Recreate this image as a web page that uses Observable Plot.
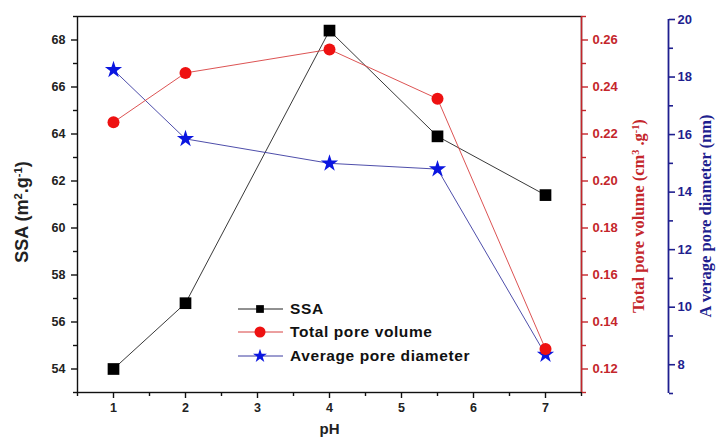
<!DOCTYPE html>
<html>
<head>
<meta charset="utf-8">
<script src="https://cdn.jsdelivr.net/npm/d3@7"></script>
<script src="https://cdn.jsdelivr.net/npm/@observablehq/plot@0.6"></script>
<style>
  html, body { margin: 0; padding: 0; background: #fff; }
  #wrap { position: relative; width: 717px; height: 442px; overflow: hidden; }
  #wrap svg.plot { position: absolute; left: 0; top: 0; }
  #legend { position: absolute; left: 238px; top: 297px; font-family: "Liberation Sans", Arial, sans-serif; font-weight: bold; font-size: 15.5px; color: #111; }
  #legend .row { display: flex; align-items: center; height: 23.5px; }
  #legend svg { margin-right: 6px; }
</style>
</head>
<body>
<div id="wrap"></div>
<script>
// ---- data ----
const pH = [1, 2, 4, 5.5, 7];
const ssa = [54.0, 56.8, 68.4, 63.9, 61.4];
const poreVolume = [0.225, 0.246, 0.256, 0.235, 0.1285];
const poreDiameter = [18.25, 15.85, 15.0, 14.8, 8.35];

const xMajor = [1, 2, 3, 4, 5, 6, 7];
const xMinor = [0.5, 1.5, 2.5, 3.5, 4.5, 5.5, 6.5, 7.5];
const ssaMajor = [54, 56, 58, 60, 62, 64, 66, 68];
const ssaMinor = [53, 55, 57, 59, 61, 63, 65, 67, 69];
const volMajor = [0.12, 0.14, 0.16, 0.18, 0.20, 0.22, 0.24, 0.26];
const volMinor = [0.11, 0.13, 0.15, 0.17, 0.19, 0.21, 0.23, 0.25, 0.27];
const diaMajor = [8, 10, 12, 14, 16, 18, 20];
const diaMinor = [7, 9, 11, 13, 15, 17, 19];

const rows = pH.map((p, i) => ({pH: p, ssa: ssa[i], vol: poreVolume[i], dia: poreDiameter[i]}));

const W = 717, H = 442;
const SANS = "Liberation Sans, Arial, sans-serif";
const SERIF = "Liberation Serif, Times New Roman, serif";
const RED_AX = "#c4262b", RED_PT = "#ee1111", RED_LN = "#d84040";
const BLUE_AX = "#1f1f8f", BLUE_PT = "#0b16e0", BLUE_LN = "#3a3aa0";
const TXT = "#222";

const base = {
  width: W, height: H,
  marginLeft: 77, marginRight: 136,
  style: {background: "transparent", overflow: "visible", fontFamily: SANS}
};
const tickFont = {fontFamily: SANS, fontWeight: "bold", fontSize: 12.5};

// ---- SSA plot (left axis, x axis, frame) ----
const p1 = Plot.plot({
  ...base,
  marginTop: 16, marginBottom: 50,
  x: {domain: [0.5, 7.5], label: null},
  y: {domain: [53, 69], label: null},
  marks: [
    Plot.frame({stroke: "#111", strokeWidth: 1.4}),
    Plot.axisX(xMajor, {tickSize: 6, tickPadding: 5, ...tickFont, fill: TXT, stroke: "#111", strokeWidth: 1.4, label: null}),
    Plot.axisX(xMinor, {tickSize: 4, tickFormat: () => "", stroke: "#111", strokeWidth: 1.4, label: null}),
    Plot.axisY(ssaMajor, {tickSize: 6, tickPadding: 6, ...tickFont, fill: TXT, stroke: "#111", strokeWidth: 1.4, label: null}),
    Plot.axisY(ssaMinor, {tickSize: 4, tickFormat: () => "", stroke: "#111", strokeWidth: 1.4, label: null}),
    Plot.text(["pH"], {frameAnchor: "bottom", dy: 41, text: d => d, fontFamily: SANS, fontWeight: "bold", fontSize: 15, fill: TXT}),
    Plot.line(rows, {x: "pH", y: "ssa", stroke: "#222", strokeWidth: 0.9}),
    Plot.dot(rows, {x: "pH", y: "ssa", symbol: "square", r: 6.6, fill: "#000", stroke: "none"})
  ]
});

// ---- Total pore volume plot (red right axis) ----
const p2 = Plot.plot({
  ...base,
  marginTop: 16, marginBottom: 50,
  x: {domain: [0.5, 7.5], axis: null},
  y: {domain: [0.11, 0.27], axis: null},
  marks: [
    Plot.ruleX([7.5], {stroke: RED_AX, strokeWidth: 1.5}),
    Plot.axisY(volMajor, {anchor: "right", tickSize: 6, tickPadding: 5, tickFormat: d3.format(".2f"), ...tickFont, fontSize: 13, fill: RED_AX, stroke: RED_AX, strokeWidth: 1.4, label: null}),
    Plot.axisY(volMinor, {anchor: "right", tickSize: 4, tickFormat: () => "", stroke: RED_AX, strokeWidth: 1.4, label: null}),
    Plot.line(rows, {x: "pH", y: "vol", stroke: RED_LN, strokeWidth: 0.9}),
    Plot.dot(rows, {x: "pH", y: "vol", symbol: "circle", r: 6, fill: RED_PT, stroke: "none"})
  ]
});

// ---- Average pore diameter plot (blue far-right axis) ----
const p3 = Plot.plot({
  ...base,
  marginTop: 19, marginBottom: 49,
  x: {domain: [0.5, 7.5], axis: null},
  y: {domain: [7, 20], axis: null},
  marks: [
    Plot.ruleX([7.5], {dx: 87, stroke: BLUE_AX, strokeWidth: 1.8}),
    Plot.axisY(diaMajor, {anchor: "right", dx: 87, tickSize: 6, tickPadding: 3, ...tickFont, fontSize: 13, fill: BLUE_AX, stroke: BLUE_AX, strokeWidth: 1.6, label: null}),
    Plot.axisY(diaMinor, {anchor: "right", dx: 87, tickSize: 4, tickFormat: () => "", stroke: BLUE_AX, strokeWidth: 1.6, label: null}),
    Plot.line(rows, {x: "pH", y: "dia", stroke: BLUE_LN, strokeWidth: 0.9}),
    Plot.dot(rows, {x: "pH", y: "dia", symbol: "star", r: 5.4, fill: BLUE_PT, stroke: "none"})
  ]
});

const wrap = document.getElementById("wrap");
[p1, p3, p2].forEach(s => { s.classList.add("plot"); wrap.appendChild(s); });

// ---- axis titles with superscripts ----
function vTitle(svg, x, y, parts, font, size, color) {
  const t = d3.select(svg).append("text")
    .attr("transform", `translate(${x},${y}) rotate(-90)`)
    .attr("text-anchor", "middle")
    .attr("font-family", font).attr("font-weight", "bold")
    .attr("font-size", size).attr("fill", color);
  parts.forEach(([s, sup]) => {
    const ts = t.append("tspan").text(s);
    if (sup) ts.attr("font-size", size * 0.62).attr("baseline-shift", "super");
  });
}
vTitle(p1, 28, 212, [["SSA (m"], ["2", 1], [".g"], ["-1", 1], [")"]], SANS, 18, TXT);
vTitle(p2, 644, 216, [["Total pore volume (cm"], ["3", 1], [" .g"], ["-1", 1], [")"]], SERIF, 16.5, RED_AX);
vTitle(p3, 711, 216, [["A verage pore diameter (nm)"]], SERIF, 16.5, BLUE_AX);

// ---- legend ----
const legendItems = [
  {label: "SSA", line: "#222", fill: "#000", sym: d3.symbolSquare, size: 60},
  {label: "Total pore volume", line: RED_LN, fill: RED_PT, sym: d3.symbolCircle, size: 95},
  {label: "Average pore diameter", line: BLUE_LN, fill: BLUE_PT, sym: d3.symbolStar, size: 60}
];
const leg = d3.select(wrap).append("div").attr("id", "legend");
legendItems.forEach(it => {
  const row = leg.append("div").attr("class", "row");
  const sv = row.append("svg").attr("width", 46).attr("height", 18);
  sv.append("line").attr("x1", 0).attr("x2", 45).attr("y1", 9).attr("y2", 9).attr("stroke", it.line).attr("stroke-width", 1);
  sv.append("path").attr("d", d3.symbol(it.sym, it.size)()).attr("transform", "translate(22,9)").attr("fill", it.fill);
  row.append("span").text(it.label).style("letter-spacing", "0.6px");
});
</script>
</body>
</html>
